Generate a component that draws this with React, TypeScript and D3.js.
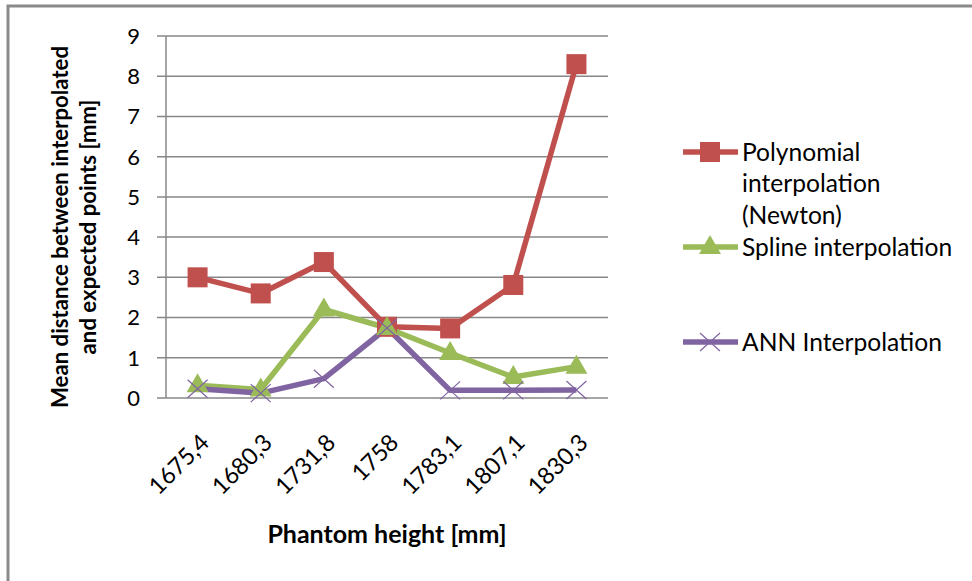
import React, { useEffect, useRef } from 'react';
import * as d3 from 'd3';

// phantom heights (x categories)
const heights = ['1675,4', '1680,3', '1731,8', '1758', '1783,1', '1807,1', '1830,3'];

// mean distance [mm] per method
const newton = [3.0, 2.6, 3.38, 1.77, 1.73, 2.81, 8.3];
const spline = [0.32, 0.21, 2.2, 1.74, 1.12, 0.52, 0.78];
const ann = [0.23, 0.12, 0.48, 1.74, 0.19, 0.19, 0.2];

const yTicks = [0, 1, 2, 3, 4, 5, 6, 7, 8, 9];

const seriesNames = ['Polynomial interpolation (Newton)', 'Spline interpolation', 'ANN Interpolation'];

const FONT = 'Lato, "Open Sans", sans-serif';

const App = () => {
  const ref = useRef<SVGSVGElement>(null);

  useEffect(() => {
    const svg = d3.select(ref.current);
    svg.selectAll('*').remove();

    const left = 166, right = 608, top = 36, bottom = 398;

    const x = d3.scaleBand().domain(heights).range([left, right]);
    const y = d3.scaleLinear().domain([0, 9]).range([bottom, top]);
    const cx = (d: string) => (x(d) as number) + x.bandwidth() / 2;

    // outer frame
    svg.append('rect')
      .attr('x', 8).attr('y', 6)
      .attr('width', 990).attr('height', 600)
      .attr('fill', 'none')
      .attr('stroke', '#8a8a8a')
      .attr('stroke-width', 3);

    // gridlines + y ticks
    svg.append('g')
      .selectAll('line')
      .data(yTicks)
      .enter().append('line')
      .attr('x1', left - 9).attr('x2', right)
      .attr('y1', d => y(d)).attr('y2', d => y(d))
      .attr('stroke', '#878787')
      .attr('stroke-width', 1.5);

    svg.append('line')
      .attr('x1', left).attr('x2', left)
      .attr('y1', top).attr('y2', bottom)
      .attr('stroke', '#878787')
      .attr('stroke-width', 1.5);

    svg.append('g')
      .selectAll('text')
      .data(yTicks)
      .enter().append('text')
      .attr('x', 140)
      .attr('y', d => y(d))
      .attr('dy', '0.36em')
      .attr('text-anchor', 'end')
      .attr('font-family', FONT)
      .attr('font-size', 22)
      .attr('fill', '#000')
      .text(d => d);

    // x tick labels, rotated
    svg.append('g')
      .selectAll('text')
      .data(heights)
      .enter().append('text')
      .attr('transform', d => 'translate(' + (cx(d) + 13) + ',444) rotate(-45)')
      .attr('text-anchor', 'end')
      .attr('font-family', FONT)
      .attr('font-size', 23.5)
      .attr('fill', '#000')
      .text(d => d);

    // axis titles
    svg.append('text')
      .attr('x', 387).attr('y', 543)
      .attr('text-anchor', 'middle')
      .attr('font-family', FONT)
      .attr('font-size', 25)
      .attr('font-weight', 'bold')
      .text('Phantom height [mm]');

    const yTitle = svg.append('text')
      .attr('transform', 'translate(0,227) rotate(-90)')
      .attr('text-anchor', 'middle')
      .attr('font-family', FONT)
      .attr('font-size', 22.2)
      .attr('font-weight', 'bold');
    yTitle.append('tspan').attr('x', 0).attr('y', 68).text('Mean distance between interpolated');
    yTitle.append('tspan').attr('x', 0).attr('y', 96).text('and expected points [mm]');

    const line = d3.line<number>()
      .x((d, i) => cx(heights[i]))
      .y(d => y(d));

    const colors = ['#C0504D', '#9BBB59', '#8064A2'];
    const data = [newton, spline, ann];

    data.forEach((vals, s) => {
      svg.append('path')
        .datum(vals)
        .attr('d', line)
        .attr('fill', 'none')
        .attr('stroke', colors[s])
        .attr('stroke-width', 5.5)
        .attr('stroke-linejoin', 'round');
    });

    const square = (g: any, px: number, py: number) => {
      g.append('rect')
        .attr('x', px - 10).attr('y', py - 10)
        .attr('width', 20).attr('height', 20)
        .attr('fill', colors[0]);
    };
    const triangle = (g: any, px: number, py: number) => {
      g.append('path')
        .attr('d', 'M' + px + ',' + (py - 12) + 'L' + (px + 11) + ',' + (py + 7) + 'L' + (px - 11) + ',' + (py + 7) + 'Z')
        .attr('fill', colors[1]);
    };
    const cross = (g: any, px: number, py: number) => {
      g.append('path')
        .attr('d', 'M' + (px - 10) + ',' + (py - 9) + 'L' + (px + 10) + ',' + (py + 9) + 'M' + (px + 10) + ',' + (py - 9) + 'L' + (px - 10) + ',' + (py + 9))
        .attr('stroke', colors[2])
        .attr('stroke-width', 1.2)
        .attr('fill', 'none');
    };
    const markers = [square, triangle, cross];

    data.forEach((vals, s) => {
      const g = svg.append('g');
      vals.forEach((v, i) => markers[s](g, cx(heights[i]), y(v)));
    });

    // legend
    const legendY = [152, 247, 342];
    const legendLines = [['Polynomial', 'interpolation', '(Newton)'], ['Spline interpolation'], ['ANN Interpolation']];
    seriesNames.forEach((name, s) => {
      const g = svg.append('g');
      g.append('line')
        .attr('x1', 683).attr('x2', 738)
        .attr('y1', legendY[s]).attr('y2', legendY[s])
        .attr('stroke', colors[s])
        .attr('stroke-width', 5.5);
      markers[s](g, 710, legendY[s]);
      const t = g.append('text')
        .attr('font-family', FONT)
        .attr('font-size', 24.6)
        .attr('fill', '#000');
      legendLines[s].forEach((l, k) => {
        t.append('tspan')
          .attr('x', 742)
          .attr('y', legendY[s] + k * 31.5)
          .attr('dy', '0.35em')
          .text(l);
      });
    });
  }, []);

  return (<div>
    <svg ref={ref} width={972} height={581}
      style={{ position: 'absolute', left: 0, top: 0, background: '#fff' }}></svg>
  </div>);
};

export default App;
